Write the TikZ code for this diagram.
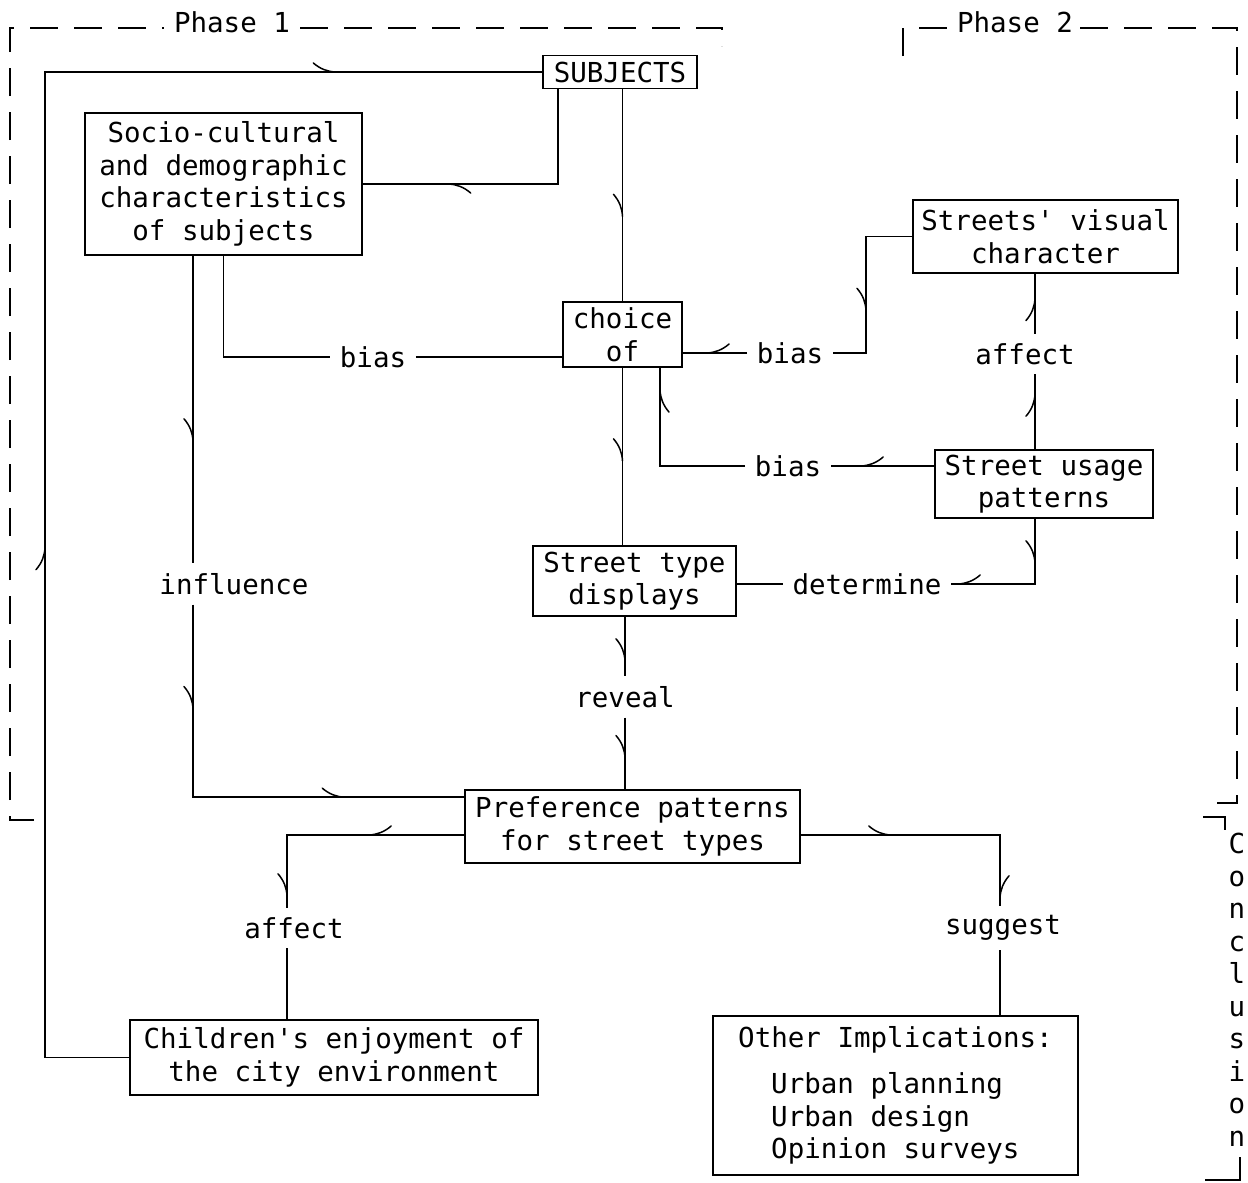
\documentclass[tikz,border=0pt]{standalone}
\usepackage{fontspec}
\newfontfamily\tw{DejaVu Sans Mono}
\usetikzlibrary{decorations.markings}
\begin{document}
\begin{tikzpicture}[x=1pt,y=-1pt,line width=1.6pt,
  every node/.style={font={\tw\fontsize{27.5pt}{32.5pt}\selectfont}},
  box/.style={draw,line width=1.6pt,inner sep=0pt,align=center},
  lab/.style={inner sep=9pt},
  phase/.style={line width=1.4pt,dash pattern=on 28pt off 16pt},
  barbL/.style={postaction={decorate,decoration={markings,mark=at position #1 with {\draw[line width=1.5pt,line cap=round,solid] (0pt,0pt) .. controls (-8pt,0.5pt) and (-15pt,3pt) .. (-22pt,9pt);}}}},
  barbR/.style={postaction={decorate,decoration={markings,mark=at position #1 with {\draw[line width=1.5pt,line cap=round,solid] (0pt,0pt) .. controls (-8pt,-0.5pt) and (-15pt,-3pt) .. (-22pt,-9pt);}}}}
]
\useasboundingbox (0,0) rectangle (1248,1183);

% phase brackets
\node (ph1) at (232,22) {Phase 1};
\node (ph2) at (1015,22) {Phase 2};
\draw[phase] (34,820) -- (10,820) -- (10,28) -- (164,28);
\draw[phase] (300,28) -- (722,28) -- (722,46);
\draw[phase] (903,56) -- (903,28) -- (950,28);
\draw[phase] (1080,28) -- (1237,28) -- (1237,803) -- (1203,803);
\draw[line width=1.4pt] (1203,817) -- (1225,817) -- (1225,830);
\draw[line width=1.4pt] (1205,1180) -- (1240,1180) -- (1240,1157);
\node[align=center,inner sep=0pt] (concl) at (1237,990) {C\\o\\n\\c\\l\\u\\s\\i\\o\\n};

% boxes
\node[box,minimum width=154pt,minimum height=33pt] (subj) at (620,72) {SUBJECTS};
\node[box,minimum width=277pt,minimum height=142pt] (socio) at (223.5,184) {Socio-cultural\\and demographic\\characteristics\\of subjects};
\node[box,minimum width=119pt,minimum height=65pt] (choice) at (622.5,334.5) {choice\\of};
\node[box,minimum width=265pt,minimum height=73pt] (visual) at (1045.5,236.5) {Streets\textquotesingle{} visual\\character};
\node[box,minimum width=218pt,minimum height=68pt] (usage) at (1044,484) {Street usage\\patterns};
\node[box,minimum width=203pt,minimum height=70pt] (stype) at (634.5,581) {Street type\\displays};
\node[box,minimum width=335pt,minimum height=73pt] (pref) at (632.5,826.5) {Preference patterns\\for street types};
\node[box,minimum width=408pt,minimum height=75pt] (child) at (334,1057.5) {Children\textquotesingle s enjoyment of\\the city environment};
\node[box,align=left,minimum width=365pt,minimum height=159pt] (other) at (895.5,1095.5) {Other Implications:\\[14pt]\hspace*{33pt}Urban planning\\\hspace*{33pt}Urban design\\\hspace*{33pt}Opinion surveys};

% labels
\node[lab] (biasA) at (373,357) {bias};
\node[lab] (biasB) at (790,353) {bias};
\node[lab] (affectA) at (1025,354) {affect};
\node[lab] (biasC) at (788,466) {bias};
\node[lab] (determine) at (867,584) {determine};
\node[lab] (influence) at (234,584) {influence};
\node[lab] (reveal) at (625,697) {reveal};
\node[lab] (affectB) at (294,928) {affect};
\node[lab] (suggest) at (1003,928) {suggest};

% helper coordinates
\coordinate (fbk) at (45,72);
\coordinate (lx) at (193,0);
\coordinate (vb) at (866,353);
\coordinate (ax) at (1035,0);
\coordinate (bx) at (287,0);
\coordinate (sx) at (1000,0);

% connectors
\draw[barbL=594pt,barbL=1360pt] (child.west) -| (fbk) -- (subj.west);
\draw[barbR=127pt] (subj.south -| choice.north) -- (choice.north);
\draw[barbL=204pt] ([xshift=-62pt]subj.south) |- (socio.east);
\draw (socio.south) |- (biasA.west);
\draw (biasA.east) -- (biasA.east -| choice.west);
\draw[barbR=185pt] (socio.south -| lx) -- (influence.north -| lx);
\draw[barbR=104pt,barbL=344pt] (influence.south -| lx) |- ([yshift=-8pt]pref.north west);
\draw[barbR=40pt] (biasB.west) -- (biasB.west -| choice.east);
\draw[barbR=120pt] (visual.west) -| (vb) -- (biasB.east);
\draw[barbR=73pt] ([yshift=18pt]usage.west) -- (biasC.east);
\draw[barbR=161pt] (biasC.west) -| ([xshift=37.5pt]choice.south);
\draw[barbL=55pt] (usage.north -| ax) -- (affectA.south -| ax);
\draw[barbL=35pt] (affectA.north -| ax) -- (visual.south -| ax);
\draw[barbR=44pt,barbR=142pt] (usage.south -| ax) |- (determine.east);
\draw (determine.west) -- (determine.west -| stype.east);
\draw[barbR=93pt] (choice.south) -- (choice.south |- stype.north);
\draw[barbR=44pt] (stype.south -| reveal.north) -- (reveal.north);
\draw[barbR=40pt] (reveal.south) -- (reveal.south |- pref.north);
\draw[barbR=95pt,barbR=238pt] ([yshift=-8.5pt]pref.west) -| (affectB.north -| bx);
\draw (affectB.south -| bx) -- (child.north -| bx);
\draw[barbL=90pt,barbL=262pt] ([yshift=-8.5pt]pref.east) -| (suggest.north -| sx);
\draw (suggest.south -| sx) -- (other.north -| sx);
\end{tikzpicture}
\end{document}
